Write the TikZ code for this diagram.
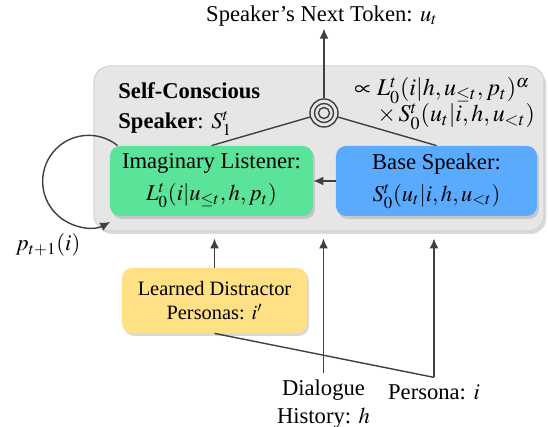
\documentclass[tikz,border=0pt]{standalone}
\usepackage{mathptmx}
\usepackage{fontspec}
\setmainfont{Liberation Serif}
\usetikzlibrary{arrows.meta, positioning, shadows, calc}
\definecolor{mgray}{HTML}{E6E6E6}
\definecolor{medge}{HTML}{D2D2D2}
\definecolor{mline}{HTML}{3F3F3F}
\definecolor{mgreen}{HTML}{5CE39A}
\definecolor{mblue}{HTML}{5AABFF}
\definecolor{myellow}{HTML}{FFE084}
\tikzstyle{speaker} = [rectangle, rounded corners=8pt, fill=mgray, draw=medge, line width=0.5pt, drop shadow={opacity=0.3, shadow xshift=1.2pt, shadow yshift=-1.5pt}]
\tikzstyle{model} = [rectangle, rounded corners=5pt, minimum width=101.5pt, minimum height=35pt, align=center, text centered, font=\fontsize{11.3}{16}\selectfont, drop shadow={opacity=0.3, shadow xshift=1pt, shadow yshift=-1.5pt}]
\tikzstyle{target} = [circle, draw=mline, line width=0.7pt, fill=mgray, minimum size=14pt, inner sep=0pt]
\tikzstyle{wire} = [draw=mline, line width=0.7pt]
\tikzstyle{arr} = [wire, -{Latex[length=5pt, width=4.5pt]}]
\tikzstyle{formula} = [anchor=base west, inner sep=0pt, font=\fontsize{12}{14}\selectfont]

\begin{document}
\begin{tikzpicture}[x=0.5pt, y=-0.5pt, font=\fontsize{11.3}{14}\selectfont]
  \useasboundingbox (0,0) rectangle (548,427);
  % self-conscious speaker
  \node (spk) [speaker, minimum width=225pt, minimum height=82.5pt] at (319,148.5) {};
  \node (sclab) [anchor=north west, align=left, inner sep=0pt, font=\fontsize{11.3}{15}\selectfont] at (118,82) {\textbf{Self-Conscious}\\\textbf{Speaker}: $S_1^t$};
  \node (frm1) [formula] at (354,96) {$\propto L_0^t(i|h,u_{\le t},p_t)^\alpha$};
  \node (frm2) [formula] at (377,122) {$\times\, S_0^t(u_t|i,h,u_{<t})$};
  \node (lis) [model, fill=mgreen] at (211.5,181) {Imaginary Listener:\\$L_0^t(i|u_{\le t},h,p_t)$};
  \node (base) [model, fill=mblue, minimum width=100.5pt] at (436.5,181) {Base Speaker:\\$S_0^t(u_t|i,h,u_{<t})$};
  \node (prod) [target] at (324,113) {};
  \draw [wire] (prod) circle[radius=9.5];
  \draw [wire] (prod) circle[radius=5.5];
  \draw [wire] (prod) -- (lis.north);
  \draw [wire] (prod) -- (base.north);
  \draw [arr] (base.west) -- (lis.east);
  % output
  \node (tok) [inner sep=1pt] at (322,16) {Speaker’s Next Token: $u_t$};
  \draw [arr] (prod.north) -- (prod |- tok.south);
  % persona update loop
  \draw [arr] ($(lis.north west)+(8,0)$) arc[start angle=-51, end angle=-298, radius=46];
  \node (upd) at (48,245) {$p_{t+1}(i)$};
  % inputs
  \node (dis) [model, fill=myellow, minimum width=92.5pt, minimum height=32.5pt, font=\fontsize{10.2}{12}\selectfont] at (214.5,300.5) {Learned Distractor\\Personas: $i'$};
  \node (hist) [align=center] at (323.5,404) {Dialogue\\History: $h$};
  \node (pers) at (434,392) {Persona: $i$};
  \draw [arr, shorten >=3.5pt] (dis.north) -- (dis.north |- spk.south);
  \draw [arr, shorten >=3.5pt] (hist.north) -- (hist.north |- spk.south);
  \draw [wire] (dis.south) -- (pers.north);
  \draw [arr, shorten >=3.5pt] (pers.north) -- (pers.north |- spk.south);
\end{tikzpicture}
\end{document}
